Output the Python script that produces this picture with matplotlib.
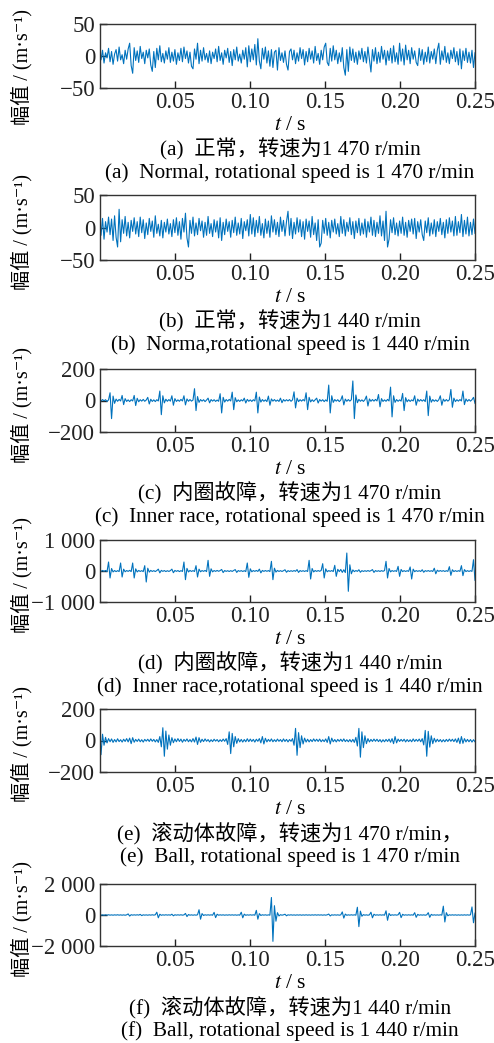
import matplotlib
matplotlib.use('Agg')
import matplotlib.pyplot as plt
import numpy as np

plt.rcParams['font.family'] = ['Liberation Serif', 'Noto Sans CJK SC', 'DejaVu Serif']
plt.rcParams['mathtext.fontset'] = 'stix'

# vibration signals (1 ms steps, 0 .. 0.25 s)
sig_a = [4, -6, 9, -11, 5, -3, 12, -9, 7, -13, 3, 10, -8, 14, -6, 2, -12, 9, -5, 11, 20, -15, -27, 13, -7,
         8, -10, 15, -4, 6, -12, 9, -3, 11, -14, -24, 7, -18, 12, -6, 16, -9, 4, -11, 8, -5, 13, -10, 6, -8,
         10, -13, 5, -7, 12, -9, 14, -4, 8, -11, 6, -16, -20, 11, -5, 20, -12, 9, -8, 13, -6, 4, -10, 8, -12,
         6, -4, 11, -9, 15, -7, 5, -13, 9, -3, 12, -10, 7, -15, 10, -6, 14, -8, 3, -11, 9, -5, 13, -17, 16,
         -9, 11, -6, 18, -14, 27, -8, -20, 12, -5, 14, -11, 8, -16, 10, -18, 6, 9, -22, 13, -7, 5, -10, 8, -13,
         -22, 7, 11, -6, 9, -12, 5, -8, 13, -4, 10, -14, 7, -9, 12, -5, 8, -11, 15, -7, 4, -13, 9, -6, 14,
         20, -10, -15, 12, -8, 16, -6, 9, -12, 5, -9, 13, -18, -30, 10, -24, 14, -7, 11, -10, 6, -13, 8, -5, 12,
         -9, 7, -11, 14, -6, -25, 10, -8, 13, -12, 6, -10, 15, -5, 9, -14, 8, -7, 12, -11, 16, -9, 5, -13, 20,
         -8, 11, -14, 17, -6, 9, -12, 13, -5, 8, -10, -15, 12, -7, 10, -13, 6, -9, 14, -11, 7, -5, 11, -12, 9,
         20, -13, 8, -6, 15, -10, 5, -12, 9, -4, 13, -9, 7, -14, 11, -20, 8, -7, 12, -10, 6, -11, 9, -18, 5]

sig_b = [6, -12, 14, -18, 9, -7, 16, -11, 13, -20, 18, -15, -30, 28, -22, 12, -9, 17, -13, 8, -16, 11, -6, 15, -10,
         9, -14, 16, -8, 12, -17, 7, -11, 14, -6, 10, -15, 18, -9, 5, -13, 11, -16, 8, -7, 13, -10, 6, -14, 12,
         -8, 15, -12, 9, -18, 14, -7, 22, -16, -30, 11, -9, 16, -13, 7, -11, 14, -5, 10, -15, 8, -12, 17, -9, 6,
         -14, 12, -7, 10, -16, 15, -20, 8, -11, 13, -6, 9, -15, 11, -8, 16, -12, 7, -10, 14, -17, 9, -5, 12, -13,
         20, -10, 15, -14, 11, -8, 17, -12, 6, -16, 13, -9, 10, -15, 18, -7, 12, -11, 8, -14, 16, -6, 11, -13, 9,
         25, -12, 14, -17, 8, -10, 15, -7, 12, -14, 9, -18, 13, -6, 10, -15, 17, -11, 7, -20, 12, -30, -24, 11, -9,
         14, -12, 8, -16, 11, -7, 13, -10, 6, -14, 17, -9, 12, -13, 8, -6, 15, -11, 9, -17, 10, -8, 14, -12, 7,
         -10, 13, -15, 9, -7, 16, -12, 11, -14, 8, -9, 18, -13, 10, -20, 25, -30, -18, 12, -8, 15, -11, 7, -13, 10,
         -9, 16, -12, 8, -15, 11, -6, 13, -10, 14, -17, 9, -7, 12, -11, -20, 10, -8, 15, -13, 7, -10, 12, -14, 9,
         -6, 14, -11, 8, -16, 12, -9, 15, -7, 10, -13, 17, -12, 9, -8, 20, -14, 11, -10, 16, -13, 8, -11, 13, -9]

sig_c = [3, -4, 6, -2, 5, -6, 4, 49, -115, 28, -18, 9, -5, 7, -3, 32, -26, 12, -6, 4, -7, 5, -3, 32, -32,
         14, -8, 5, -4, 7, -5, 3, 20, -22, 8, -6, 4, -7, 5, -3, 60, -90, 30, -15, 8, -5, 6, -4, 30, -30,
         12, -6, 4, -5, 7, -3, 30, -28, 10, -5, 6, -4, 3, 75, -64, 25, -12, 6, -4, 5, -7, 3, 15, -15, 6,
         -4, 5, -6, 3, -5, 43, -79, 20, -10, 6, -4, 7, -3, 53, -58, 18, -8, 4, -6, 5, -3, 15, -16, 7, -5,
         4, -6, 5, -3, 53, -79, 22, -10, 6, -5, 4, -7, 28, -30, 10, -4, 6, -5, 3, -6, 15, -14, 6, -4, 5,
         -3, 6, -5, 4, 55, -47, 15, -7, 5, -4, 6, -3, 49, -58, 20, -9, 5, -6, 4, 15, -16, 6, -4, 5, -7,
         4, -5, 98, -79, 30, -12, 6, -4, 5, -7, 3, 30, -28, 9, -5, 6, -4, 5, 124, -115, 35, -14, 7, -5, 4,
         -6, 5, 28, -35, 10, -5, 6, -4, 7, -3, 38, -40, 12, -6, 4, -5, 7, -3, 85, -104, 30, -12, 6, -5, 4,
         -4, 45, -64, 18, -8, 5, -6, 4, -3, 30, -30, 9, -5, 6, -4, 5, -7, 60, -96, 28, -11, 6, -5, 4, -6,
         5, 30, -30, 9, -5, 6, -4, 5, 70, -43, 15, -7, 5, -4, 6, -3, 60, -26, 10, -5, 6, -4, 5, 20, -18]

sig_d = [10, -15, 20, -12, 18, -20, 290, -225, 80, -30, 15, -20, 12, -18, 258, -194, 60, -25, 15, -12, 20, -18, 258, -225, 70,
         -30, 18, -15, 12, -20, 172, -355, 90, -35, 20, -15, 12, -18, 15, 60, -60, 20, -12, 15, -18, 10, -14, 12, 60, -55,
         18, -12, 15, -20, 12, -15, 290, -280, 85, -30, 18, -14, 12, -16, 172, -194, 60, -25, 15, -12, 18, -20, 344, -172, 70,
         -28, 15, -12, 18, -10, 14, 50, -50, 15, -12, 10, -16, 12, -14, 18, 45, -45, 14, -10, 12, -15, 10, -18, 258, -204,
         70, -25, 15, -12, 18, -14, 60, -60, 18, -12, 15, -10, 14, -18, 312, -280, 90, -35, 18, -14, 12, -15, 10, 40, -40,
         12, -15, 10, -12, 14, -10, 45, -45, 15, -12, 10, -14, 12, -16, 344, -258, 80, -30, 15, -12, 14, -10, 18, 236, -225,
         70, -25, 14, -12, 15, -18, 183, -172, 55, -20, 50, -45, 40, -50, 580, -655, 200, -90, 35, -20, 15, -12, 40, -40, 12,
         -14, 10, -12, 15, -10, 12, 45, -45, 14, -12, 10, -15, 12, -10, 14, 312, -225, 80, -28, 15, -12, 10, -14, 150, -172,
         50, -20, 12, -15, 10, -12, 130, -258, 60, -22, 14, -12, 10, -15, 40, -40, 12, -10, 14, -12, 10, -15, 90, -90, 25,
         -12, 14, -10, 12, -15, 10, -12, 140, -140, 40, -18, 12, -14, 10, -12, 172, -150, 45, -18, 12, -14, 10, -12, 365, -300]

sig_e = [70, -90, 40, -30, 20, -15, 12, -8, 10, -12, 6, -9, 11, -7, 5, -10, 8, -6, 12, -9, 15, -20, 18, -11, 7,
         -6, 9, -8, 5, -10, 7, -4, 8, -6, 10, -5, 7, -9, 6, -12, 25, -40, 81, -100, 60, -55, 35, -30, 18, -14,
         10, -8, 12, -6, 9, -11, 7, -5, 10, -8, 6, -9, 12, -10, 22, -25, 18, -12, 8, -7, 10, -5, 6, -9, 5,
         -7, 8, -4, 6, -8, 5, -6, 9, -5, 12, -25, 55, -83, 45, -40, 25, -18, 12, -9, 7, -10, 6, -8, 11, -7,
         9, -6, 7, -10, 8, -5, 12, -15, 25, -22, 14, -9, 7, -6, 10, -8, 5, -7, 9, -5, 6, -8, 10, -6, 7,
         -9, 6, -5, 12, -30, 77, -94, 50, -45, 30, -22, 15, -10, 8, -9, 6, -7, 10, -5, 8, -6, 9, -8, 5, -7,
         10, -12, 25, -22, 15, -8, 6, -9, 7, -5, 8, -6, 10, -7, 5, -8, 6, -9, 7, -12, 20, -35, 77, -106, 55,
         -45, 30, -20, 12, -9, 7, -6, 9, -5, 8, -7, 6, -10, 5, -8, 7, -6, 9, -11, 12, -20, 25, -15, 9, -6,
         7, -5, 8, -9, 6, -7, 5, -8, 10, -6, 7, -5, 9, -8, 12, -28, 64, -100, 58, -42, 30, -20, 14, -10, 8,
         -7, 6, -9, 5, -8, 7, -6, 9, -5, 8, -7, 10, -12, 15, -20, 25, -18, 12, -9, 7, -8, 6, -10, 5, -8]

sig_f = [10, -12, 8, -15, 12, -9, 14, -10, 8, -13, 11, -8, 15, -10, 9, -12, 8, -14, 10, 70, -70, 20, -10, 12, -8,
         14, -9, 40, -40, 12, -10, 8, -13, 11, -9, 14, -8, 12, 180, -180, 50, -20, 12, -10, 15, -8, 11, -13, 50, -50,
         15, -10, 12, -9, 14, -11, 8, 100, -100, 30, -12, 10, -14, 9, -11, 13, 340, -270, 90, -30, 14, -10, 12, -9, 11,
         -13, 170, -170, 50, -15, 12, -9, 11, -14, 8, -10, 13, -9, 12, -11, 10, -14, 9, -12, 180, -180, 55, -20, 12, -10,
         14, -9, 11, -13, 300, -270, 90, -30, 15, -10, 12, -14, 9, -11, 1130, -1700, 600, -400, 150, -60, 20, -12, 10, 50, -50,
         12, -9, 14, -11, 8, -13, 10, -9, 12, -14, 9, -11, 13, -10, 8, -12, 11, -9, 14, -10, 12, -8, 10, -13, 9,
         -11, 12, 60, -60, 15, -10, 12, -9, 11, -13, 10, 200, -200, 60, -20, 12, -10, 14, -9, 11, -12, 500, -750, 250, -80,
         25, -12, 10, -14, 9, 180, -180, 50, -15, 12, -10, 13, -9, 11, -12, 270, -340, 100, -30, 14, -10, 12, -9, 11, 170,
         -170, 45, -15, 12, -10, 14, -9, 11, -12, 150, -150, 40, -15, 12, -9, 10, -13, 11, 150, -150, 40, -14, 12, -10, 9,
         -11, 13, -9, 570, -450, 150, -50, 15, -10, 12, -9, 11, -13, 10, -12, 9, -11, 13, -10, 12, -9, 11, 520, -500, 120]

signals = [sig_a, sig_b, sig_c, sig_d, sig_e, sig_f]
y_limits = [50, 50, 200, 1000, 200, 2000]
y_tick_labels = [['\u221250', '0', '50'], ['\u221250', '0', '50'],
                 ['\u2212200', '0', '200'], ['\u22121 000', '0', '1 000'],
                 ['\u2212200', '0', '200'], ['\u22122 000', '0', '2 000']]
x_ticks = [0.05, 0.10, 0.15, 0.20, 0.25]
x_tick_labels = ['0.05', '0.10', '0.15', '0.20', '0.25']
captions_cn = ['(a)  正常，转速为1 470 r/min', '(b)  正常，转速为1 440 r/min',
               '(c)  内圈故障，转速为1 470 r/min', '(d)  内圈故障，转速为1 440 r/min',
               '(e)  滚动体故障，转速为1 470 r/min，', '(f)  滚动体故障，转速为1 440 r/min']
captions_en = ['(a)  Normal, rotational speed is 1 470 r/min', '(b)  Norma,rotational speed is 1 440 r/min',
               '(c)  Inner race, rotational speed is 1 470 r/min', '(d)  Inner race,rotational speed is 1 440 r/min',
               '(e)  Ball, rotational speed is 1 470 r/min', '(f)  Ball, rotational speed is 1 440 r/min']

W, H = 494, 1043
fig = plt.figure(figsize=(W / 100, H / 100), dpi=100)

# axes top / bottom in pixels, measured from the top of the picture
ax_px = [(24, 88), (195, 260), (369, 432), (540, 602), (709, 772), (884, 946)]
left, right = 99.5, 475
cx = 290 / W

for i, (top, bot) in enumerate(ax_px):
    ax = fig.add_axes([left / W, 1 - bot / H, (right - left) / W, (bot - top) / H])
    sig = np.array(signals[i], dtype=float)
    t = np.linspace(0, 0.25, len(sig))
    ax.plot(t, sig, color='#0072BD', lw=0.8)
    lim = y_limits[i]
    ax.set_xlim(0, 0.25)
    ax.set_ylim(-lim, lim)
    ax.set_xticks(x_ticks)
    ax.set_xticklabels(x_tick_labels)
    ax.set_yticks([-lim, 0, lim])
    ax.set_yticklabels(y_tick_labels[i])
    ax.tick_params(direction='in', length=5, width=1, labelsize=16.5, pad=3, colors='#222222')
    for s in ax.spines.values():
        s.set_linewidth(1)
        s.set_color('#333333')

    # axis title, captions
    fig.text(cx, 1 - (bot + 37) / H, '$t$ / s', ha='center', va='center', fontsize=15.5)
    fig.text(cx, 1 - (bot + 61) / H, captions_cn[i], ha='center', va='center', fontsize=15.3)
    fig.text(cx, 1 - (bot + 85) / H, captions_en[i], ha='center', va='center', fontsize=15.3)
    yc = (top + bot) / 2 + (11 if i == 0 else 4)
    fig.text(22 / W, 1 - yc / H, '幅值 / (m·s\u207b\u00b9)', ha='center', va='center',
             rotation=90, fontsize=14.5)

fig.savefig('out.png', dpi=100)
